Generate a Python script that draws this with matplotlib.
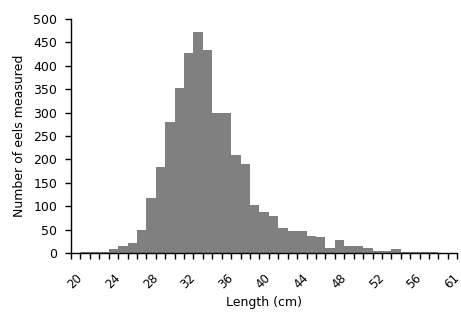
import matplotlib.pyplot as plt
import matplotlib.transforms as mtransforms
import numpy as np

plt.rcParams['font.family'] = ['DejaVu Sans']

# Length classes (cm) and counts of eels
lengths = [str(v) for v in range(20, 60)] + ['61']
counts = [0, 3, 3, 3, 9, 16, 22, 50, 118, 184,
          280, 353, 428, 473, 433, 299, 299, 209, 191, 102,
          87, 79, 53, 48, 48, 36, 34, 10, 28, 14,
          14, 11, 5, 5, 9, 2, 2, 2, 2, 0,
          0]
label_every = 4

fig = plt.figure(figsize=(4.61, 3.12), dpi=100)
ax = fig.add_axes([0.154, 0.189, 0.838, 0.750])

x = np.arange(len(lengths))
ax.bar(x, counts, width=1.0, color='#808080', edgecolor='none')

ax.set_xlim(-0.5, len(lengths) - 0.5)
ax.set_ylim(0, 500)
ax.set_yticks(np.arange(0, 501, 50))

# category ticks sit between bars, labels under selected categories
ax.set_xticks(np.arange(len(lengths) + 1) - 0.5)
ax.set_xticklabels([])
lab_pos = [i for i in range(len(lengths)) if i % label_every == 0]
ax.set_xticks(lab_pos, minor=True)
ax.set_xticklabels([lengths[i] for i in lab_pos], minor=True,
                   rotation=45, ha='right', va='top', rotation_mode='anchor')
shift = mtransforms.ScaledTranslation(-2 / 72, 0, fig.dpi_scale_trans)
for lab in ax.xaxis.get_minorticklabels():
    lab.set_transform(lab.get_transform() + shift)
ax.tick_params(axis='x', which='minor', length=0, pad=13, labelsize=8.5)
ax.tick_params(axis='x', which='major', length=4, width=1, direction='out')
ax.tick_params(axis='y', length=4, width=1, direction='out', labelsize=9, pad=6)

for s in ['top', 'right']:
    ax.spines[s].set_visible(False)
for s in ['left', 'bottom']:
    ax.spines[s].set_linewidth(1)
    ax.spines[s].set_color('black')

ax.set_xlabel('Length (cm)', fontsize=9, labelpad=4)
ax.set_ylabel('Number of eels measured', fontsize=9, labelpad=5)

fig.savefig('out.png', dpi=100)
